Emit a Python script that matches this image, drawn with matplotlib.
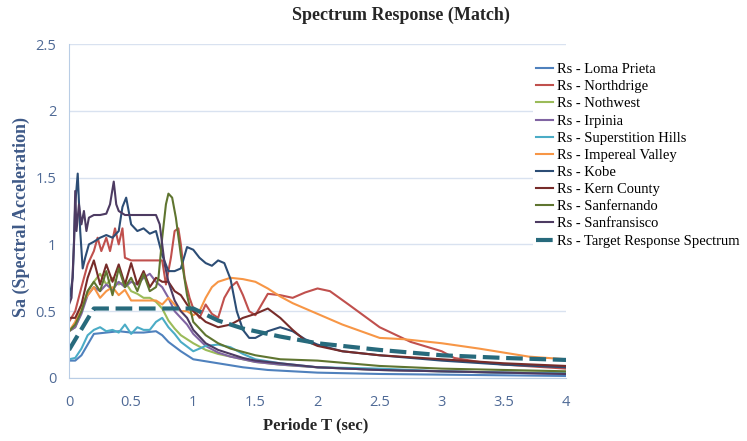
import matplotlib
matplotlib.use("Agg")
import matplotlib.pyplot as plt

#************************************
# Data (period T [sec], Sa [g])
#************************************
T_loma = [0, 0.05, 0.1, 0.15, 0.2, 0.3, 0.4, 0.5, 0.6, 0.7, 0.75, 0.8, 0.9, 1.0, 1.2, 1.4, 1.6, 2.0, 2.5, 3.0, 4.0]
Sa_loma = [0.13, 0.13, 0.17, 0.25, 0.33, 0.34, 0.35, 0.34, 0.34, 0.35, 0.32, 0.27, 0.2, 0.14, 0.11, 0.08, 0.06, 0.04, 0.03, 0.025, 0.015]

T_north = [0, 0.05, 0.1, 0.15, 0.2, 0.23, 0.26, 0.3, 0.33, 0.37, 0.4, 0.43, 0.45, 0.5, 0.6, 0.7, 0.75, 0.78, 0.82,
           0.85, 0.88, 0.9, 0.93, 0.97, 1.0, 1.05, 1.1, 1.15, 1.2, 1.25, 1.3, 1.35, 1.4, 1.45, 1.5, 1.6, 1.7, 1.8,
           1.9, 2.0, 2.1, 2.25, 2.5, 2.75, 3.0, 3.1, 3.3, 3.5, 4.0]
Sa_north = [0.42, 0.5, 0.68, 0.85, 0.95, 1.05, 0.95, 1.05, 0.95, 1.12, 1.0, 1.12, 0.9, 0.88, 0.88, 0.88, 0.88, 0.7, 0.9,
            1.1, 1.12, 1.0, 0.75, 0.6, 0.52, 0.45, 0.55, 0.48, 0.45, 0.6, 0.68, 0.72, 0.62, 0.5, 0.47, 0.63, 0.62, 0.6,
            0.64, 0.67, 0.65, 0.55, 0.38, 0.27, 0.2, 0.15, 0.12, 0.1, 0.07]

T_nothw = [0, 0.05, 0.1, 0.15, 0.2, 0.25, 0.3, 0.35, 0.4, 0.45, 0.5, 0.55, 0.6, 0.65, 0.7, 0.75, 0.8, 0.85, 0.9, 1.0,
           1.1, 1.2, 1.3, 1.5, 1.7, 2.0, 2.5, 3.0, 3.5, 4.0]
Sa_nothw = [0.35, 0.38, 0.5, 0.65, 0.72, 0.78, 0.7, 0.75, 0.7, 0.72, 0.65, 0.63, 0.6, 0.6, 0.57, 0.52, 0.43, 0.37, 0.32,
            0.26, 0.21, 0.18, 0.16, 0.12, 0.1, 0.08, 0.06, 0.05, 0.04, 0.04]

T_irp = [0, 0.05, 0.1, 0.15, 0.2, 0.25, 0.3, 0.35, 0.4, 0.45, 0.5, 0.55, 0.6, 0.65, 0.7, 0.75, 0.8, 0.85, 0.9, 0.95,
         1.0, 1.1, 1.2, 1.3, 1.5, 1.7, 2.0, 2.5, 3.0, 3.5, 4.0]
Sa_irp = [0.35, 0.38, 0.48, 0.62, 0.68, 0.65, 0.7, 0.66, 0.72, 0.68, 0.72, 0.7, 0.75, 0.78, 0.72, 0.68, 0.6, 0.5, 0.45,
          0.4, 0.33, 0.24, 0.19, 0.16, 0.12, 0.1, 0.08, 0.06, 0.05, 0.04, 0.03]

T_sup = [0, 0.05, 0.1, 0.15, 0.2, 0.25, 0.3, 0.35, 0.4, 0.45, 0.5, 0.55, 0.6, 0.65, 0.7, 0.75, 0.8, 0.85, 0.9, 1.0,
         1.1, 1.2, 1.3, 1.4, 1.5, 1.7, 2.0, 2.5, 3.0, 3.5, 4.0]
Sa_sup = [0.14, 0.15, 0.22, 0.32, 0.36, 0.38, 0.35, 0.36, 0.34, 0.4, 0.33, 0.38, 0.36, 0.36, 0.42, 0.45, 0.38, 0.33,
          0.27, 0.2, 0.24, 0.25, 0.23, 0.18, 0.14, 0.11, 0.08, 0.07, 0.05, 0.04, 0.035]

T_imp = [0, 0.05, 0.1, 0.15, 0.2, 0.25, 0.3, 0.35, 0.4, 0.45, 0.5, 0.6, 0.7, 0.75, 0.8, 0.85, 0.9, 0.95, 1.0, 1.05,
         1.1, 1.15, 1.2, 1.3, 1.4, 1.5, 1.6, 1.7, 1.8, 2.0, 2.2, 2.5, 2.7, 3.0, 3.3, 3.7, 4.0]
Sa_imp = [0.35, 0.42, 0.55, 0.62, 0.68, 0.6, 0.65, 0.68, 0.62, 0.66, 0.58, 0.58, 0.58, 0.55, 0.6, 0.55, 0.5, 0.5, 0.47,
          0.5, 0.6, 0.68, 0.72, 0.75, 0.74, 0.72, 0.67, 0.61, 0.56, 0.48, 0.4, 0.3, 0.29, 0.26, 0.22, 0.16, 0.14]

T_kobe = [0, 0.03, 0.05, 0.07, 0.09, 0.11, 0.13, 0.16, 0.2, 0.25, 0.3, 0.35, 0.4, 0.43, 0.46, 0.5, 0.55, 0.6, 0.65,
          0.7, 0.75, 0.8, 0.85, 0.9, 0.95, 1.0, 1.05, 1.1, 1.15, 1.2, 1.25, 1.3, 1.35, 1.4, 1.45, 1.5, 1.6, 1.7, 1.8,
          1.9, 2.0, 2.2, 2.5, 3.0, 3.5, 4.0]
Sa_kobe = [0.57, 0.75, 1.3, 1.53, 1.1, 0.82, 0.9, 1.0, 1.02, 1.05, 1.07, 1.05, 1.1, 1.28, 1.35, 1.15, 1.1, 1.12, 1.08,
           1.1, 0.92, 0.8, 0.8, 0.82, 0.98, 0.96, 0.9, 0.86, 0.84, 0.88, 0.86, 0.74, 0.5, 0.36, 0.3, 0.3, 0.35, 0.38,
           0.35, 0.29, 0.25, 0.2, 0.17, 0.13, 0.1, 0.08]

T_kern = [0, 0.05, 0.1, 0.15, 0.2, 0.25, 0.3, 0.35, 0.4, 0.45, 0.5, 0.55, 0.6, 0.65, 0.7, 0.75, 0.8, 0.85, 0.9, 0.95,
          1.0, 1.1, 1.2, 1.3, 1.4, 1.5, 1.6, 1.7, 1.8, 1.9, 2.0, 2.2, 2.5, 3.0, 3.5, 4.0]
Sa_kern = [0.45, 0.45, 0.55, 0.75, 0.88, 0.7, 0.85, 0.72, 0.85, 0.7, 0.86, 0.7, 0.8, 0.68, 0.75, 0.72, 0.72, 0.65, 0.62,
           0.55, 0.5, 0.42, 0.38, 0.4, 0.45, 0.48, 0.52, 0.45, 0.36, 0.28, 0.24, 0.2, 0.17, 0.14, 0.11, 0.09]

T_sanfe = [0, 0.05, 0.1, 0.15, 0.2, 0.25, 0.3, 0.35, 0.4, 0.45, 0.5, 0.55, 0.6, 0.65, 0.7, 0.72, 0.75, 0.78, 0.8, 0.83,
           0.86, 0.9, 0.95, 1.0, 1.1, 1.2, 1.3, 1.5, 1.7, 2.0, 2.5, 3.0, 3.5, 4.0]
Sa_sanfe = [0.35, 0.4, 0.5, 0.65, 0.72, 0.65, 0.8, 0.62, 0.82, 0.68, 0.75, 0.65, 0.78, 0.65, 0.68, 0.75, 1.05, 1.3, 1.38,
            1.35, 1.2, 0.92, 0.62, 0.42, 0.32, 0.26, 0.22, 0.17, 0.14, 0.13, 0.09, 0.07, 0.06, 0.05]

T_sanfr = [0, 0.02, 0.04, 0.05, 0.06, 0.08, 0.1, 0.12, 0.14, 0.16, 0.2, 0.25, 0.3, 0.33, 0.36, 0.38, 0.4, 0.45, 0.5,
           0.6, 0.7, 0.73, 0.77, 0.8, 0.85, 0.9, 0.95, 1.0, 1.1, 1.2, 1.3, 1.4, 1.5, 1.7, 2.0, 2.5, 3.0, 3.5, 4.0]
Sa_sanfr = [0.55, 0.6, 1.0, 1.4, 1.1, 1.3, 1.15, 1.25, 1.1, 1.2, 1.22, 1.22, 1.23, 1.3, 1.47, 1.3, 1.25, 1.22, 1.22,
            1.22, 1.22, 1.15, 0.85, 0.72, 0.58, 0.5, 0.45, 0.36, 0.26, 0.21, 0.18, 0.15, 0.13, 0.11, 0.08, 0.06, 0.05,
            0.04, 0.03]

T_target = [0, 0.2, 1.0, 1.2, 1.4, 1.7, 2.0, 2.5, 3.0, 3.5, 4.0]
Sa_target = [0.21, 0.52, 0.52, 0.43, 0.37, 0.31, 0.26, 0.21, 0.17, 0.15, 0.135]

series = [
    ("Rs - Loma Prieta", T_loma, Sa_loma, "#4F81BD"),
    ("Rs - Northdrige", T_north, Sa_north, "#C0504D"),
    ("Rs - Nothwest", T_nothw, Sa_nothw, "#9BBB59"),
    ("Rs - Irpinia", T_irp, Sa_irp, "#8064A2"),
    ("Rs - Superstition Hills", T_sup, Sa_sup, "#4BACC6"),
    ("Rs - Impereal Valley", T_imp, Sa_imp, "#F79646"),
    ("Rs - Kobe", T_kobe, Sa_kobe, "#2C4D75"),
    ("Rs - Kern County", T_kern, Sa_kern, "#772C2A"),
    ("Rs - Sanfernando", T_sanfe, Sa_sanfe, "#5F7530"),
    ("Rs - Sanfransisco", T_sanfr, Sa_sanfr, "#4D3B62"),
]

#************************************
# Plot
#************************************
fig = plt.figure(figsize=(7.47, 4.41), dpi=100)
ax = fig.add_axes([0.0924, 0.1429, 0.6653, 0.7573])

for name, t, sa, col in series:
    ax.plot(t, sa, color=col, lw=1.5, label=name)
ax.plot(T_target, Sa_target, color="#276A7C", lw=3, dashes=(4, 1.6),
        label="Rs - Target Response Spectrum")

ax.set_xlim(0, 4)
ax.set_ylim(0, 2.5)
ax.set_xticks([0, 0.5, 1, 1.5, 2, 2.5, 3, 3.5, 4])
ax.set_xticklabels(["0", "0.5", "1", "1.5", "2", "2.5", "3", "3.5", "4"])
ax.set_yticks([0, 0.5, 1, 1.5, 2, 2.5])
ax.set_yticklabels(["0", "0.5", "1", "1.5", "2", "2.5"])
ax.grid(axis="y", color="#D9E2F0", lw=1)
ax.set_axisbelow(True)
for s in ("top", "right"):
    ax.spines[s].set_visible(False)
for s in ("left", "bottom"):
    ax.spines[s].set_color("#B9CDE5")
ax.tick_params(axis="y", length=0, pad=9, labelsize=10.5, labelcolor="#4F6A96")
ax.tick_params(axis="x", length=0, pad=12, labelsize=10.5, labelcolor="#4F6A96")
for lab in ax.get_xticklabels() + ax.get_yticklabels():
    lab.set_family("Open Sans")

fig.text(0.537, 0.966, "Spectrum Response (Match)", ha="center", va="center",
         family="Liberation Serif", weight="bold", fontsize=13, color="#262626")
fig.text(0.423, 0.036, "Periode T (sec)", ha="center", va="center",
         family="Liberation Serif", weight="bold", fontsize=12, color="#262626")
fig.text(0.028, 0.508, "Sa (Spectral Acceleration)", ha="center", va="center", rotation=90,
         family="Liberation Serif", weight="bold", fontsize=13, color="#3F5A88")

leg = ax.legend(loc="upper left", bbox_to_anchor=(0.934, 0.952), frameon=True, framealpha=1,
                edgecolor="none", facecolor="white", handlelength=1.15, handletextpad=0.25,
                labelspacing=0.27, borderaxespad=0, borderpad=0.2,
                prop={"family": "Liberation Serif", "size": 10.5})
leg.set_zorder(5)

fig.savefig("out.png", dpi=100)
